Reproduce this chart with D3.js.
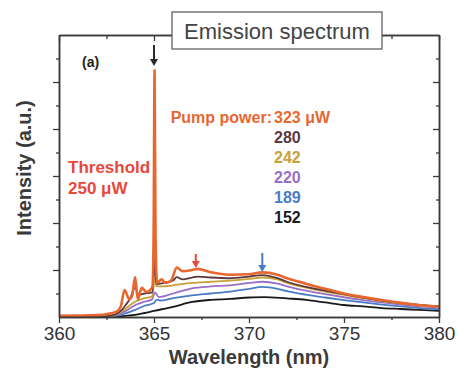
<!DOCTYPE html>
<html><head><meta charset="utf-8">
<script src="https://cdn.jsdelivr.net/npm/d3@7/dist/d3.min.js"></script>
<style>
html,body{margin:0;padding:0;background:#fff;}
svg text{font-family:"Liberation Sans",Arial,sans-serif;}
</style></head>
<body>
<svg id="chart" width="458" height="370"></svg>
<script>
// ---- data ----
const xTicks = [360, 365, 370, 375, 380];
const xMinor = [362.5, 367.5, 372.5, 377.5];
const yMajor = [2, 4, 6, 8, 10];
const yMinor = [1, 3, 5, 7, 9, 11];
const powers = ["323", "280", "242", "220", "189", "152"];

const wl152 = [360, 362, 363, 363.5, 364, 364.5, 365, 366, 367, 368, 369, 370, 370.8, 372, 373, 374, 375, 376, 377, 378, 379, 380];
const int152 = [0.0, 0.0, 0.02, 0.05, 0.09, 0.17, 0.26, 0.43, 0.64, 0.73, 0.77, 0.83, 0.85, 0.79, 0.73, 0.62, 0.51, 0.45, 0.38, 0.34, 0.3, 0.26];

const wl189 = [360, 362, 363, 363.5, 364, 364.5, 365, 365.15, 365.4, 366, 367, 368, 369, 370, 370.7, 371.5, 372, 373, 374, 375, 376, 377, 378, 379, 380];
const int189 = [0.0, 0.01, 0.05, 0.15, 0.3, 0.48, 0.6, 0.74, 0.7, 0.8, 0.92, 1.0, 1.08, 1.2, 1.28, 1.2, 1.1, 0.95, 0.83, 0.72, 0.62, 0.53, 0.45, 0.38, 0.33];

const wl220 = [360, 362, 362.5, 363, 363.5, 364, 364.5, 364.9, 365.05, 365.25, 366, 367, 368, 369, 370, 370.7, 371.5, 372, 373, 374, 375, 376, 377, 378, 379, 380];
const int220 = [0.0, 0.01, 0.02, 0.08, 0.25, 0.5, 0.65, 0.75, 1.05, 0.85, 1.0, 1.22, 1.3, 1.35, 1.45, 1.5, 1.42, 1.3, 1.12, 0.97, 0.84, 0.72, 0.62, 0.53, 0.45, 0.4];

const wl242 = [360, 362, 362.5, 363, 363.5, 364, 364.5, 364.9, 364.98, 365.03, 365.1, 365.2, 365.5, 366, 367, 368, 369, 370, 370.7, 371.5, 372, 373, 374, 375, 376, 377, 378, 379, 380];
const int242 = [0.01, 0.02, 0.03, 0.1, 0.35, 0.65, 0.8, 0.88, 1.3, 1.9, 1.35, 1.3, 1.3, 1.35, 1.45, 1.5, 1.55, 1.62, 1.68, 1.6, 1.45, 1.25, 1.08, 0.94, 0.8, 0.68, 0.58, 0.5, 0.45];

const wl280 = [360, 362, 362.5, 363, 363.3, 363.5, 363.75, 364.0, 364.2, 364.5, 364.9, 364.97, 365.02, 365.07, 365.15, 365.5, 366, 366.2, 366.5, 367, 367.3, 368, 369, 370, 370.7, 371.5, 372, 373, 374, 375, 376, 377, 378, 379, 380];
const int280 = [0.02, 0.03, 0.04, 0.12, 0.3, 0.5, 0.8, 1.25, 0.95, 1.0, 1.05, 1.8, 4.0, 1.8, 1.4, 1.45, 1.55, 1.7, 1.6, 1.68, 1.72, 1.68, 1.65, 1.72, 1.78, 1.65, 1.5, 1.28, 1.12, 0.97, 0.83, 0.7, 0.6, 0.52, 0.46];

const wl323 = [360, 361, 362, 362.5, 363, 363.25, 363.45, 363.7, 363.85, 364.0, 364.15, 364.35, 364.6, 364.8, 364.92, 364.98, 365.03, 365.08, 365.16, 365.4, 365.6, 365.9, 366.2, 366.5, 367, 367.3, 368, 369, 370, 370.7, 371.5, 372, 373, 374, 375, 376, 377, 378, 379, 380];
const int323 = [0.05, 0.06, 0.08, 0.12, 0.22, 0.45, 1.15, 0.75, 0.9, 1.7, 0.75, 1.24, 1.07, 1.15, 1.3, 3.5, 10.5, 3.5, 1.45, 1.6, 1.45, 1.55, 2.1, 1.95, 2.0, 2.05, 1.9, 1.8, 1.82, 1.9, 1.8, 1.65, 1.42, 1.2, 1.0, 0.85, 0.72, 0.6, 0.5, 0.44];

const colors = {"323": "#e8672f", "280": "#5b3a40", "242": "#c9a13a", "220": "#9a6fc6", "189": "#4a7cc6", "152": "#1a1a1a"};
const seriesData = {
  "152": [wl152, int152], "189": [wl189, int189], "220": [wl220, int220],
  "242": [wl242, int242], "280": [wl280, int280], "323": [wl323, int323]
};

// ---- chart ----
const svg = d3.select("#chart");
const x = d3.scaleLinear().domain([360, 380]).range([59, 439]);
const y = d3.scaleLinear().domain([0, 12]).range([317, 35]);
const axisColor = "#3a3a3a";

const line = d3.line().x(d => x(d[0])).y(d => y(d[1])).curve(d3.curveMonotoneX);

["152", "189", "220", "242", "280", "323"].forEach(p => {
  const [w, v] = seriesData[p];
  const pts = w.map((wv, i) => [wv, v[i]]);
  svg.append("path").datum(pts)
    .attr("d", line).attr("fill", "none")
    .attr("stroke", colors[p])
    .attr("stroke-width", p === "323" ? 2.6 : 1.8)
    .attr("stroke-linejoin", "round");
});

function styleAxis(g) {
  g.select(".domain").attr("stroke", axisColor).attr("stroke-width", 1.5);
  g.selectAll(".tick line").attr("stroke", axisColor).attr("stroke-width", 1.3);
}

const gb = svg.append("g").attr("transform", "translate(0,317)")
  .call(d3.axisBottom(x).tickValues(xTicks).tickSize(6).tickSizeOuter(0).tickPadding(4).tickFormat(d3.format("d")));
styleAxis(gb);
gb.selectAll("text").attr("font-size", 19).attr("fill", "#333");
const gbm = svg.append("g").attr("transform", "translate(0,317)")
  .call(d3.axisBottom(x).tickValues(xMinor).tickSize(3).tickSizeOuter(0).tickFormat(""));
styleAxis(gbm);

const gt = svg.append("g").attr("transform", "translate(0,35)")
  .call(d3.axisTop(x).tickValues(xTicks).tickSize(-6).tickSizeOuter(0).tickFormat(""));
styleAxis(gt);
const gtm = svg.append("g").attr("transform", "translate(0,35)")
  .call(d3.axisTop(x).tickValues(xMinor).tickSize(-4).tickSizeOuter(0).tickFormat(""));
styleAxis(gtm);

const gl = svg.append("g").attr("transform", "translate(59,0)")
  .call(d3.axisLeft(y).tickValues(yMajor).tickSize(6).tickSizeOuter(0).tickFormat(""));
styleAxis(gl);
const glm = svg.append("g").attr("transform", "translate(59,0)")
  .call(d3.axisLeft(y).tickValues(yMinor).tickSize(3).tickSizeOuter(0).tickFormat(""));
styleAxis(glm);

const gr = svg.append("g").attr("transform", "translate(439,0)")
  .call(d3.axisRight(y).tickValues(yMajor).tickSize(-6).tickSizeOuter(0).tickFormat(""));
styleAxis(gr);
const grm = svg.append("g").attr("transform", "translate(439,0)")
  .call(d3.axisRight(y).tickValues(yMinor).tickSize(-3).tickSizeOuter(0).tickFormat(""));
styleAxis(grm);

svg.append("text").attr("x", 249).attr("y", 364).attr("text-anchor", "middle")
  .attr("font-size", 20).attr("font-weight", "bold").attr("fill", "#3a3a3a").text("Wavelength (nm)");
svg.append("text").attr("transform", "translate(31,168) rotate(-90)").attr("text-anchor", "middle")
  .attr("font-size", 20).attr("font-weight", "bold").attr("fill", "#3a3a3a").text("Intensity (a.u.)");

svg.append("rect").attr("x", 172).attr("y", 12).attr("width", 210).attr("height", 37)
  .attr("fill", "#fff").attr("stroke", "#555").attr("stroke-width", 1.2);
svg.append("text").attr("x", 277).attr("y", 38.5).attr("text-anchor", "middle")
  .attr("font-size", 22).attr("fill", "#444").text("Emission spectrum");

svg.append("text").attr("x", 82).attr("y", 67).attr("font-size", 14).attr("font-weight", "bold").attr("fill", "#222").text("(a)");

svg.append("text").attr("x", 68).attr("y", 173).attr("font-size", 17).attr("font-weight", "bold").attr("fill", "#e8483a").text("Threshold");
svg.append("text").attr("x", 68).attr("y", 194).attr("font-size", 17).attr("font-weight", "bold").attr("fill", "#e8483a").text("250 μW");

svg.append("text").attr("x", 272).attr("y", 123).attr("text-anchor", "end")
  .attr("font-size", 16).attr("font-weight", "bold").attr("fill", colors["323"]).text("Pump power:");
powers.forEach((p, i) => {
  svg.append("text").attr("x", 274).attr("y", 123 + i * 20)
    .attr("font-size", 16).attr("font-weight", "bold").attr("fill", colors[p])
    .text(i === 0 ? p + " μW" : p);
});

function arrow(wl, y0, y1, color) {
  const xp = x(wl);
  svg.append("line").attr("x1", xp).attr("x2", xp).attr("y1", y0).attr("y2", y1 - 6)
    .attr("stroke", color).attr("stroke-width", 2);
  svg.append("path").attr("d", `M${xp - 4},${y1 - 7} L${xp + 4},${y1 - 7} L${xp},${y1} Z`).attr("fill", color);
}
arrow(365.0, 45, 66, "#2a2a2a");
arrow(367.2, 254, 268, "#e8483a");
arrow(370.7, 253, 272, "#4a78c8");
</script>
</body></html>
